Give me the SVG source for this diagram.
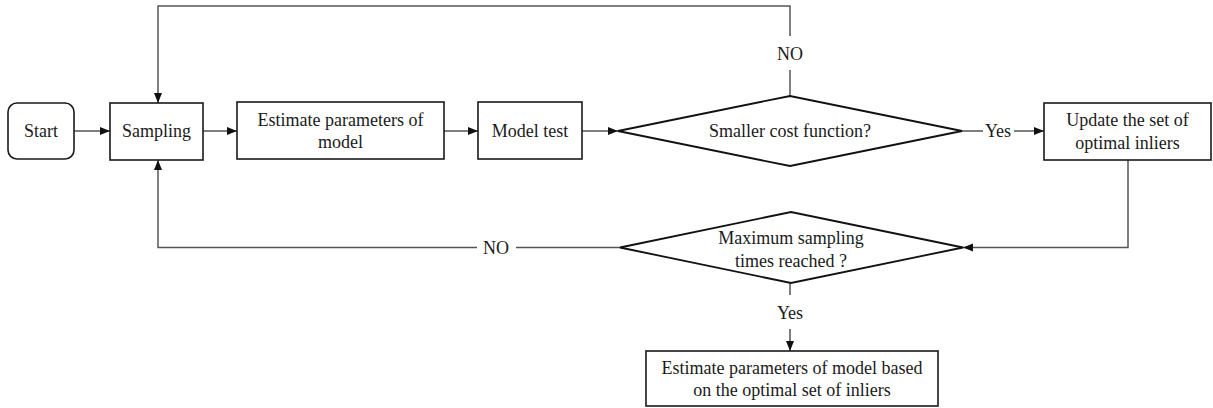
<svg xmlns="http://www.w3.org/2000/svg" width="1213" height="408" viewBox="0 0 1213 408">
<style>
  .box { fill: #fff; stroke: #1a1a1a; stroke-width: 1.6; }
  .dia { fill: #fff; stroke: #111; stroke-width: 1.8; }
  .t { font-family: "Liberation Serif", "Times New Roman", serif; font-size: 18px; fill: #1a1a1a; text-anchor: middle; }
  .c { fill: none; stroke: #555; stroke-width: 1.5; }
  .ca { fill: none; stroke: #555; stroke-width: 1.5; marker-end: url(#ah); }
</style>
<defs>
  <marker id="ah" viewBox="0 0 10 10" refX="10" refY="5" markerWidth="10" markerHeight="10" markerUnits="userSpaceOnUse" orient="auto">
    <path d="M0,1 L10,5 L0,9 Z" fill="#111"/>
  </marker>
</defs>
<rect width="1213" height="408" fill="#fff"/>

<g id="connectors">
  <line class="ca" x1="74" y1="131" x2="110" y2="131"/>
  <line class="ca" x1="203" y1="131" x2="237" y2="131"/>
  <line class="ca" x1="444" y1="131" x2="478" y2="131"/>
  <line class="ca" x1="582" y1="131" x2="618" y2="131"/>
  <line class="c" x1="962" y1="131" x2="983" y2="131"/>
  <line class="ca" x1="1014" y1="131" x2="1044" y2="131"/>
  <polyline class="ca" points="1128,160 1128,247.5 963,247.5"/>
  <line class="c" x1="620" y1="247.5" x2="516" y2="247.5"/>
  <polyline class="ca" points="477,247.5 158,247.5 158,160"/>
  <line class="c" x1="790" y1="96" x2="790" y2="70"/>
  <polyline class="ca" points="790,36 790,6 158,6 158,103"/>
  <line class="c" x1="790" y1="283" x2="790" y2="295"/>
  <line class="ca" x1="790" y1="329" x2="790" y2="351"/>
  <text class="t" x="998" y="137">Yes</text>
  <text class="t" x="496" y="254">NO</text>
  <text class="t" x="790" y="60">NO</text>
  <text class="t" x="790" y="319">Yes</text>
</g>

<g id="start">
  <rect class="box" x="8" y="103" width="66" height="56" rx="9"/>
  <text class="t" x="41" y="137">Start</text>
</g>
<g id="sampling">
  <rect class="box" x="110" y="103" width="93" height="57"/>
  <text class="t" x="156.5" y="137">Sampling</text>
</g>
<g id="estimate">
  <rect class="box" x="237" y="102" width="207" height="57"/>
  <text class="t" x="340.5" y="126">Estimate parameters of</text>
  <text class="t" x="340.5" y="148">model</text>
</g>
<g id="modeltest">
  <rect class="box" x="478" y="102" width="104" height="57"/>
  <text class="t" x="530" y="137">Model test</text>
</g>
<g id="cost">
  <polygon class="dia" points="618,131 790,96 962,131 790,166"/>
  <text class="t" x="790" y="137">Smaller cost function?</text>
</g>
<g id="update">
  <rect class="box" x="1044" y="103" width="167" height="57"/>
  <text class="t" x="1127.5" y="126">Update the set of</text>
  <text class="t" x="1127.5" y="149">optimal inliers</text>
</g>
<g id="maxsampling">
  <polygon class="dia" points="620,247.5 791,212 963,247.5 791,283"/>
  <text class="t" x="791" y="244">Maximum sampling</text>
  <text class="t" x="791" y="267">times reached ?</text>
</g>
<g id="final">
  <rect class="box" x="646" y="351" width="292" height="55"/>
  <text class="t" x="792" y="374">Estimate parameters of model based</text>
  <text class="t" x="792" y="396">on the optimal set of inliers</text>
</g>
</svg>
